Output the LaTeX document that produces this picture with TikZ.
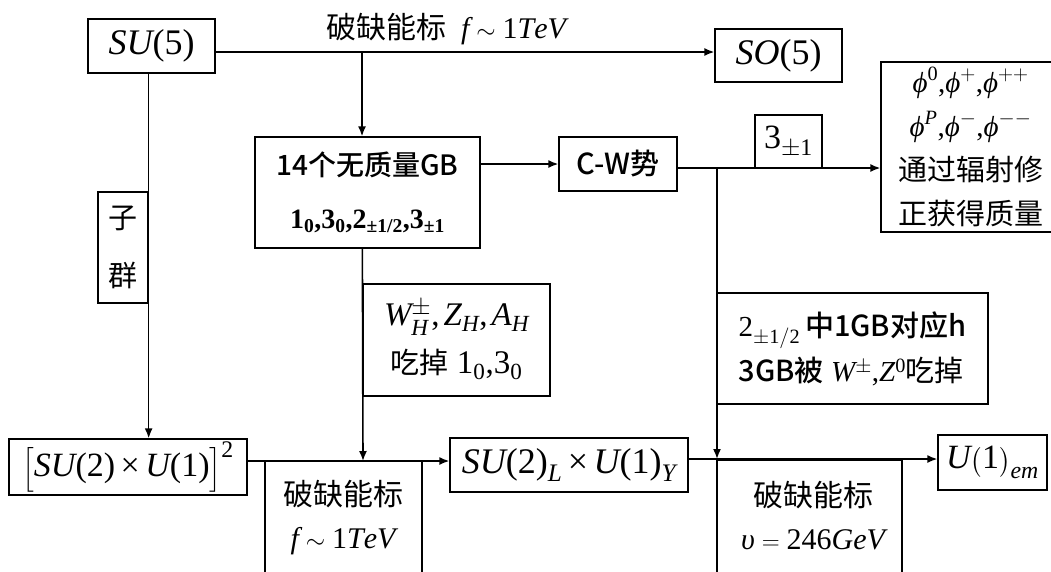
\documentclass[tikz,border=0pt]{standalone}
\usepackage{amsmath}
\usepackage{mathspec}
\setmainfont{Liberation Serif}
\setmathsfont(Digits,Latin,Greek){Liberation Serif}
\newfontfamily\cjk{Noto Sans CJK SC}
\newfontfamily\hei{Noto Sans CJK SC Medium}
\newcommand\lpar{\text{(}}
\newcommand\rpar{\text{)}}
\newcommand\tms{\mathbin{\text{×}}}
\usetikzlibrary{arrows.meta}
\tikzset{
  bx/.style={draw, line width=1.3pt, inner sep=0pt, align=center},
  txt/.style={inner sep=0pt, align=center},
  conn/.style={line width=1.6pt},
  arr/.style={conn, -{Latex[length=10pt,width=8pt]}},
}
\begin{document}
\begin{tikzpicture}[x=1pt,y=-1pt]
\useasboundingbox (0,0) rectangle (1051,571);
\fill[white] (0,0) rectangle (1051,571);

% boxes
\node[bx, minimum width=127pt, minimum height=54pt, font=\fontsize{36}{40}\selectfont] (SU5) at (151.5,46) {$SU\lpar5\rpar$};
\node[bx, minimum width=127pt, minimum height=53pt, font=\fontsize{36}{40}\selectfont] (SO5) at (778.5,55.5) {$SO\lpar5\rpar$};
\node[txt, font=\fontsize{30}{34}\selectfont] (toplab) at (446,29) {{\cjk 破缺能标}\ \ $f\sim 1TeV$};
\node[bx, minimum width=225pt, minimum height=111pt, font=\fontsize{28}{53}\selectfont] (GB) at (367.5,192.5) {{\hei 14个无质量GB}\\{\bfseries 1\textsubscript{0},3\textsubscript{0},2\textsubscript{±1/2},3\textsubscript{±1}}};
\node[bx, minimum width=118pt, minimum height=54pt, font=\hei\fontsize{29}{34}\selectfont] (CW) at (618,164) {C-W势};
\node[bx, minimum width=67pt, minimum height=53pt, font=\fontsize{34}{38}\selectfont] (three) at (788.5,141.5) {$3_{\pm1}$};
\node[bx, minimum width=179pt, minimum height=170pt, font=\fontsize{29}{44}\selectfont] (phi) at (970.5,147) {$\varphi^0\text{,}\varphi^+\text{,}\varphi^{++}$\\$\varphi^P\text{,}\varphi^-\text{,}\varphi^{--}$\\{\cjk 通过辐射修}\\{\cjk 正获得质量}};
\node[bx, minimum width=50pt, minimum height=111pt, font=\cjk\fontsize{29}{58}\selectfont] (sub) at (123,247.5) {子\\群};
\node[bx, minimum width=187pt, minimum height=112pt, font=\fontsize{33}{48}\selectfont] (WH) at (456.5,340) {$W_H^{\pm}\text{,}\,Z_H\text{,}\,A_H$\\{\cjk\fontsize{29}{48}\selectfont 吃掉}\ $1_0\text{,}3_0$};
\node[bx, minimum width=271pt, minimum height=111pt, font=\fontsize{29}{45}\selectfont, align=left] (two) at (852.5,348.5) {$2_{\pm1/2}$\,{\hei 中1GB对应h}\\{\hei 3GB被}\ $W^{\pm}\text{,}Z^0${\cjk 吃掉}};
\node[bx, minimum width=238pt, minimum height=56pt, font=\fontsize{34}{40}\selectfont] (SUsq) at (128,467) {$\Bigl[SU\lpar2\rpar\tms U\lpar1\rpar\Bigr]^2$};
\node[bx, minimum width=157pt, minimum height=140pt, anchor=north] (brk1) at (343.5,461) {};
\node[txt, font=\fontsize{30}{43}\selectfont] (brk1t) at (343,518) {{\cjk 破缺能标}\\$f\sim 1TeV$};
\node[bx, minimum width=238pt, minimum height=54pt, font=\fontsize{36}{40}\selectfont] (SUL) at (569,465) {$SU\lpar2\rpar_L\tms U\lpar1\rpar_Y$};
\node[bx, minimum width=185pt, minimum height=140pt, anchor=north] (brk2) at (809.5,460) {};
\node[txt, font=\fontsize{30}{43}\selectfont] (brk2t) at (813,516) {{\cjk 破缺能标}\\$\upsilon=246GeV$};
\node[bx, minimum width=109pt, minimum height=55pt, font=\fontsize{34}{38}\selectfont] (U1) at (992.5,462.5) {$U\bigl(1\bigr)_{em}$};

% junctions
\coordinate (jt) at (362,52);
\coordinate (jc) at (717,168);
\coordinate (jb) at (717,459);
\coordinate (jl) at (363,461);

% connectors
\draw[conn] (SU5.east |- jt) -- (jt);
\draw[arr] (jt) -- (SO5.west |- jt);
\draw[arr] (jt) -- (jt |- GB.north);
\draw[arr] (GB.east |- CW.west) -- (CW.west);
\draw[conn] (CW.east |- jc) -- (jc);
\draw[arr] (jc) -- (phi.west |- jc);
\draw[arr] (jc) -- (jb);
\draw[arr] (SU5.south -| sub.east) -- (sub.east |- SUsq.north);
\draw[arr] (GB.south -| WH.west) -- (jl);
\draw[conn] (SUsq.east |- jl) -- (jl);
\draw[arr] (jl) -- (SUL.west |- jl);
\draw[conn] (SUL.east |- jb) -- (jb);
\draw[arr] (jb) -- (U1.west |- jb);
\end{tikzpicture}
\end{document}
